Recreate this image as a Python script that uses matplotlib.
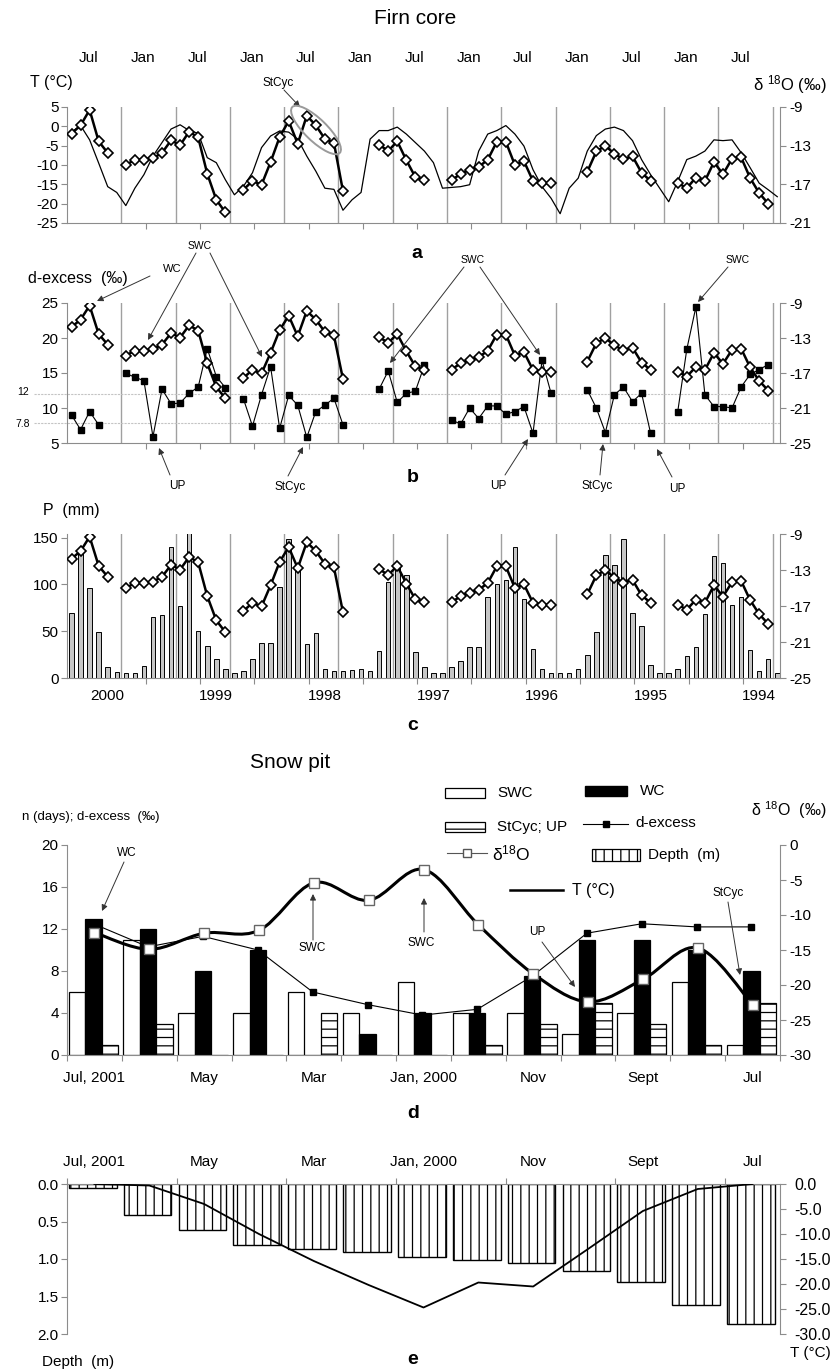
import numpy as np
import matplotlib
matplotlib.use("Agg")
import matplotlib.pyplot as plt
from matplotlib.transforms import Affine2D, blended_transform_factory
from matplotlib.patches import Ellipse, Rectangle, PathPatch, FancyArrowPatch
from matplotlib.path import Path
from matplotlib.lines import Line2D

plt.rcParams['font.family'] = ['Liberation Sans', 'DejaVu Sans']
plt.rcParams['mathtext.default'] = 'regular'
plt.rcParams['axes.unicode_minus'] = False
plt.rcParams['hatch.linewidth'] = 0.9

nan = np.nan

# ---------------- firn core: one value per month, newest on the left ----------------
t_firn = [-1.5, 0.2, -3.5, -9.5, -15.6, -17.1, -20.5, -16.0, -12.5, -7.7,
          -4.2, -0.7, 0.4, -1.1, -1.8, -8.1, -9.4, -13.8, -17.7, -15.5,
          -12.0, -5.5, -2.5, -1.2, -1.5, -3.3, -7.7, -11.6, -16.0, -16.3,
          -21.7, -19.0, -17.1, -3.3, -1.1, -1.1, -0.2, -2.0, -4.2, -6.4,
          -9.4, -16.0, -15.8, -15.6, -15.1, -6.4, -2.0, -1.1, 0.2, -2.0,
          -5.1, -11.2, -15.6, -18.6, -22.6, -16.0, -13.4, -6.4, -2.4, -0.7,
          -0.2, -1.1, -3.7, -8.6, -12.5, -16.0, -19.5, -14.2, -8.6, -7.7,
          -6.4, -3.5, -3.7, -3.5, -6.8, -10.7, -14.7, -16.4, -18.2]

d18o_firn = [-11.75, -10.9, -9.3, -12.55, -13.75, nan, -15.0, -14.45, -14.45, -14.3,
             -13.75, -12.45, -12.95, -11.55, -12.15, -15.9, -18.6, -19.9, nan, -17.55,
             -16.65, -17.05, -14.7, -12.1, -10.45, -12.8, -9.9, -10.9, -12.3, -12.7,
             -17.7, nan, nan, nan, -12.9, -13.55, -12.55, -14.5, -16.25, -16.6,
             nan, nan, -16.6, -15.9, -15.5, -15.2, -14.45, -12.6, -12.6, -15.0,
             -14.6, -16.65, -16.85, -16.9, nan, nan, nan, -15.7, -13.6, -13.0,
             -13.85, -14.4, -14.1, -15.8, -16.65, nan, nan, -16.85, -17.4, -16.3,
             -16.65, -14.7, -15.95, -14.35, -14.2, -16.35, -17.9, -19.0, nan]

dexcess_firn = [9.0, 6.9, 9.5, 7.6, nan, nan, 14.95, 14.4, 13.9, 5.9,
                12.7, 10.6, 10.7, 12.1, 13.0, 18.5, 14.5, 12.9, nan, 11.3,
                7.4, 11.9, 15.9, 7.1, 11.8, 10.4, 5.8, 9.5, 10.4, 11.4,
                7.6, nan, nan, nan, 12.7, 15.3, 10.8, 12.1, 12.4, 16.1,
                nan, nan, 8.3, 7.7, 10.0, 8.5, 10.3, 10.3, 9.1, 9.5,
                10.2, 6.4, 16.8, 12.1, nan, nan, nan, 12.6, 10.0, 6.5,
                11.9, 13.0, 10.9, 12.1, 6.4, nan, nan, 9.5, 18.4, 24.4,
                11.9, 10.2, 10.2, 10.0, 13.0, 14.8, 15.5, 16.2, nan]

precip = [70, 134, 96, 49, 12, 6, 5, 5, 13, 65,
          67, 140, 77, 160, 50, 34, 20, 10, 5, 8,
          20, 37, 37, 97, 149, 115, 36, 48, 10, 7,
          7, 9, 10, 7, 29, 103, 119, 110, 28, 12,
          5, 5, 12, 18, 33, 33, 87, 100, 105, 140,
          84, 31, 10, 5, 5, 5, 10, 25, 49, 132,
          121, 149, 70, 56, 14, 5, 5, 10, 24, 33,
          68, 130, 123, 78, 87, 30, 8, 20, 5]

half_year_labels = ['Jul', 'Jan'] * 6 + ['Jul']
year_labels = ['2000', '1999', '1998', '1997', '1996', '1995', '1994']

# ---------------- snow pit: one group per month ----------------
pit_labels = ['Jul, 2001', 'May', 'Mar', 'Jan, 2000', 'Nov', 'Sept', 'Jul']
swc = [6, 11, 4, 4, 6, 4, 7, 4, 4, 2, 4, 7, 1]
wc = [13, 12, 8, 10, 0, 2, 4, 4, 7.5, 11, 11, 10, 8]
stcyc_up = [1, 3, 0, 0, 4, 0, 0, 1, 3, 5, 3, 1, 5]
dexcess_pit = [12.5, 10.3, 11.3, 10.0, 6.0, 4.8, 3.8, 4.35, 7.5, 11.6, 12.5, 12.2, 12.2]
d18o_pit = [-12.5, -14.9, -12.6, -12.2, -5.4, -7.9, -3.5, -11.4, -18.4, -22.4, -19.2, -14.7, -22.8]
depth = [0.05, 0.41, 0.61, 0.81, 0.87, 0.91, 0.97, 1.01, 1.05, 1.16, 1.30, 1.61, 1.87]
t_pit = [0.0, -0.3, -4.0, -10.0, -15.4, -20.2, -24.7, -19.7, -20.5, -13.0, -5.4, -1.0, 0.0]

W, H = 830, 1370
fig = plt.figure(figsize=(W / 100, H / 100), dpi=100)
PX = Affine2D().scale(1, -1).translate(0, H)   # pixel coords, origin top-left
GREY = '#8c8c8c'


def txt(x, y, s, size=11, **kw):
    kw.setdefault('va', 'center')
    fig.text(x, y, s, transform=PX, fontsize=size, **kw)


def arrow(x0, y0, x1, y1):
    fig.add_artist(FancyArrowPatch((x0, y0), (x1, y1), transform=PX,
                                   arrowstyle='-|>', mutation_scale=9, lw=0.7,
                                   color='#333333', shrinkA=0, shrinkB=0))


def axes_px(top, bottom, left=67, right=780):
    return fig.add_axes([left / W, 1 - bottom / H, (right - left) / W, (bottom - top) / H])


def style_pair(ax, ar):
    for s in ['top', 'right']:
        ax.spines[s].set_visible(False)
    for s in ['top', 'left', 'bottom']:
        ar.spines[s].set_visible(False)
    for s in ['left', 'bottom']:
        ax.spines[s].set_color(GREY)
    ar.spines['right'].set_color(GREY)
    ax.tick_params(axis='y', length=4, color=GREY, labelsize=11, pad=2)
    ar.tick_params(axis='y', length=4, color=GREY, labelsize=11, pad=3)
    ax.tick_params(axis='x', length=4, color=GREY, labelbottom=False)


def firn_axes(top, bottom, ylim_l, yticks_l, ylim_r, yticks_r):
    ax = axes_px(top, bottom)
    ax.set_xlim(0, 78.8)
    ax.set_ylim(*ylim_l)
    ax.set_yticks(yticks_l)
    for v in range(6, 79, 6):
        ax.axvline(v, color='#a0a0a0', lw=1.0, zorder=0)
    ax.set_xticks([2.7 + 6 * k for k in range(1, 13)])
    ar = ax.twinx()
    ar.set_ylim(*ylim_r)
    ar.set_yticks(yticks_r)
    style_pair(ax, ar)
    return ax, ar


x = np.arange(len(t_firn)) + 0.5
diamond = dict(color='k', lw=1.8, marker='D', ms=4.6, mfc='white', mec='k', mew=1.2)

# ---------------- panel a ----------------
txt(415, 18, 'Firn core', size=15, ha='center')
ax_a, ar_a = firn_axes(107, 223, (-25, 5), range(-25, 6, 5), (-21, -9), [-21, -17, -13, -9])
ax_a.plot(x, t_firn, color='k', lw=0.9)
ar_a.plot(x, d18o_firn, **diamond)
top_tr = blended_transform_factory(ax_a.transData, PX)
for k, lab in enumerate(half_year_labels):
    ax_a.text(2.4 + 6 * k, 58, lab, transform=top_tr, ha='center', va='center', fontsize=11)
txt(30, 83, 'T (°C)', size=11.5)
txt(827, 85, 'δ $^{18}$O (‰)', size=12, ha='right')
txt(278, 83, 'StCyc', size=8.5, ha='center')
arrow(284, 90, 300, 107)
fig.add_artist(Ellipse((316, 130), 66, 22, angle=44, transform=PX,
                       fill=False, ec='#9a9a9a', lw=1.4))
txt(417, 253, 'a', size=14, weight='bold', ha='center')

# ---------------- panel b ----------------
ax_b, ar_b = firn_axes(303, 443, (5, 25), range(5, 26, 5), (-25, -9), [-25, -21, -17, -13, -9])
for lvl in (12, 7.8):
    ax_b.plot([-3.7, 78.8], [lvl, lvl], color='#c4c4c4', lw=0.8, ls=(0, (2, 1)),
              clip_on=False, zorder=0)
ax_b.plot(x, dexcess_firn, color='k', lw=0.8, marker='s', ms=4, mfc='k', mec='k')
ar_b.plot(x, d18o_firn, **diamond)
txt(28, 278, 'd-excess  (‰)', size=11.5)
txt(17, 392, '12', size=7.5)
txt(15, 424, '7.8', size=7.5)
txt(163, 269, 'WC', size=8)
arrow(150, 276, 97, 301)
txt(200, 246, 'SWC', size=7.5, ha='center')
arrow(196, 253, 148, 340)
arrow(210, 253, 262, 357)
txt(473, 260, 'SWC', size=7.5, ha='center')
arrow(464, 267, 390, 363)
arrow(480, 267, 540, 355)
txt(738, 260, 'SWC', size=7.5, ha='center')
arrow(728, 267, 698, 302)
txt(177, 486, 'UP', size=8.5, ha='center')
arrow(170, 475, 159, 448)
txt(290, 487, 'StCyc', size=8.5, ha='center')
arrow(288, 476, 303, 447)
txt(498, 486, 'UP', size=8.5, ha='center')
arrow(505, 475, 528, 439)
txt(597, 486, 'StCyc', size=8.5, ha='center')
arrow(600, 475, 603, 444)
txt(677, 489, 'UP', size=8.5, ha='center')
arrow(672, 477, 657, 449)
txt(413, 478, 'b', size=14, weight='bold', ha='center')

# ---------------- panel c ----------------
ax_c, ar_c = firn_axes(534, 678, (0, 154), [0, 50, 100, 150], (-25, -9), [-25, -21, -17, -13, -9])
ax_c.bar(x, precip, width=0.5, color='#c6c6c6', edgecolor='k', lw=0.7, zorder=2)
ar_c.plot(x, d18o_firn, **diamond)
txt(43, 510, 'P  (mm)', size=11.5)
bot_tr = blended_transform_factory(ax_c.transData, PX)
for k, lab in enumerate(year_labels):
    ax_c.text(4.5 + 12 * k, 696, lab, transform=bot_tr, ha='center', va='center', fontsize=11)
txt(413, 725, 'c', size=14, weight='bold', ha='center')

# ---------------- panel d ----------------
xg = np.arange(len(swc))
txt(290, 762, 'Snow pit', size=15, ha='center')
ax_d = axes_px(845, 1055)
ax_d.set_xlim(-0.5, 12.5)
ax_d.set_ylim(0, 20)
ax_d.set_yticks(range(0, 21, 4))
ax_d.set_xticks(np.arange(-0.5, 13, 1))
ax_d.bar(xg - 0.32, swc, 0.3, color='white', edgecolor='k', lw=0.9)
ax_d.bar(xg - 0.02, wc, 0.3, color='k', edgecolor='k', lw=0.9)
ax_d.bar(xg + 0.28, stcyc_up, 0.3, color='white', edgecolor='k', lw=0.9, hatch='--')
ax_d.plot(xg - 0.02, dexcess_pit, color='k', lw=0.8, marker='s', ms=5, mfc='k', zorder=4)
ar_d = ax_d.twinx()
ar_d.set_ylim(-30, 0)
ar_d.set_yticks(range(-30, 1, 5))
style_pair(ax_d, ar_d)


def smooth_path(xs, ys):
    pts = np.column_stack([xs, ys]).astype(float)
    ext = np.vstack([pts[0], pts, pts[-1]])
    verts, codes = [pts[0]], [Path.MOVETO]
    for i in range(len(pts) - 1):
        p0, p1, p2, p3 = ext[i], ext[i + 1], ext[i + 2], ext[i + 3]
        verts += [p1 + (p2 - p0) / 6, p2 - (p3 - p1) / 6, p2]
        codes += [Path.CURVE4] * 3
    return Path(verts, codes)


ar_d.add_patch(PathPatch(smooth_path(xg, d18o_pit), fill=False, ec='k', lw=2.2, zorder=3))
ar_d.plot(xg, d18o_pit, ls='none', marker='s', ms=7, mfc='white', mec='#666666', mew=1.0, zorder=4)

pit_tr = blended_transform_factory(ax_d.transData, PX)
for k, lab in enumerate(pit_labels):
    ax_d.text(2 * k, 1078, lab, transform=pit_tr, ha='center', va='center', fontsize=11)
txt(22, 817, 'n (days); d-excess  (‰)', size=9.5)
txt(826, 810, 'δ $^{18}$O  (‰)', size=11.5, ha='right')

# legend drawn by hand (shared by panels d and e)
fig.add_artist(Rectangle((445, 788), 40, 10, transform=PX, fc='white', ec='k', lw=0.9))
txt(497, 793, 'SWC', size=11)
fig.add_artist(Rectangle((585, 786), 42, 10, transform=PX, fc='k', ec='k'))
txt(640, 791, 'WC', size=11)
fig.add_artist(Rectangle((445, 822), 40, 10, transform=PX, fc='white', ec='k', lw=0.9, hatch='--'))
txt(497, 827, 'StCyc; UP', size=11)
fig.add_artist(Line2D([583, 628], [824, 824], transform=PX, color='k', lw=0.8))
fig.add_artist(Line2D([606], [824], transform=PX, marker='s', ms=5, color='k'))
txt(635, 823, 'd-excess', size=11)
fig.add_artist(Line2D([447, 487], [853, 853], transform=PX, color='#555555', lw=0.8))
fig.add_artist(Line2D([467], [853], transform=PX, marker='s', ms=6, mfc='white', mec='#555555'))
txt(492, 853, 'δ$^{18}$O', size=12.5)
fig.add_artist(Rectangle((592, 849), 48, 12, transform=PX, fc='white', ec='k', lw=0.9, hatch='||'))
txt(648, 855, 'Depth  (m)', size=11)
fig.add_artist(Line2D([510, 563], [890, 890], transform=PX, color='k', lw=1.8))
txt(572, 890, 'T (°C)', size=11.5)

txt(127, 853, 'WC', size=8.5, ha='center')
arrow(124, 862, 102, 911)
txt(312, 948, 'SWC', size=8.5, ha='center')
arrow(313, 940, 313, 894)
txt(421, 943, 'SWC', size=8.5, ha='center')
arrow(424, 932, 424, 898)
txt(537, 932, 'UP', size=8.5, ha='center')
arrow(542, 942, 575, 987)
txt(728, 893, 'StCyc', size=8.5, ha='center')
arrow(728, 902, 740, 975)
txt(413, 1113, 'd', size=14, weight='bold', ha='center')

# ---------------- panel e ----------------
ax_e = axes_px(1184, 1334)
ax_e.set_xlim(-0.5, 12.5)
ax_e.set_ylim(2.0, 0)
ax_e.set_yticks([0, 0.5, 1.0, 1.5, 2.0])
ax_e.set_yticklabels(['0.0', '0.5', '1.0', '1.5', '2.0'])
ax_e.bar(xg - 0.03, depth, 0.87, color='white', edgecolor='k', lw=1.0, hatch='||')
ar_e = ax_e.twinx()
ar_e.set_ylim(-30, 0)
ar_e.set_yticks(range(-30, 1, 5))
ar_e.set_yticklabels(['%.1f' % v for v in range(-30, 1, 5)])
ar_e.plot(xg, t_pit, color='k', lw=1.3)
for s in ['right', 'bottom']:
    ax_e.spines[s].set_visible(False)
for s in ['top', 'left', 'bottom']:
    ar_e.spines[s].set_visible(False)
ax_e.spines['left'].set_color(GREY)
ax_e.spines['top'].set_color(GREY)
ar_e.spines['right'].set_color(GREY)
ax_e.xaxis.tick_top()
ax_e.set_xticks(np.arange(-0.5, 13, 2))
ax_e.tick_params(axis='x', length=4, color=GREY, labeltop=False)
ax_e.tick_params(axis='y', length=4, color=GREY, labelsize=11, pad=2)
ar_e.tick_params(axis='y', length=4, color=GREY, labelsize=11.5, pad=6)
e_tr = blended_transform_factory(ax_e.transData, PX)
for k, lab in enumerate(pit_labels):
    ax_e.text(2 * k, 1162, lab, transform=e_tr, ha='center', va='center', fontsize=11)
txt(42, 1362, 'Depth  (m)', size=11)
txt(413, 1360, 'e', size=14, weight='bold', ha='center')
txt(790, 1353, 'T (°C)', size=11)

fig.savefig('out.png', dpi=100)
